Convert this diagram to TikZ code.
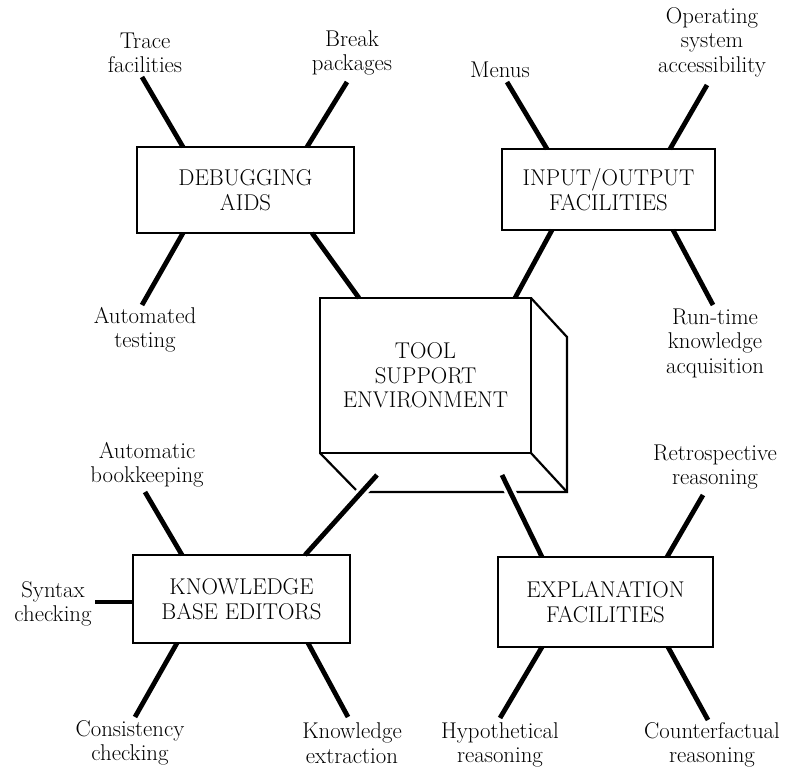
\documentclass[tikz,border=0pt]{standalone}
\usepackage{fontspec}
\usetikzlibrary{calc}
\newcommand\diagfont{\fontsize{22.8}{24.5}\selectfont}
\begin{document}
\begin{tikzpicture}[x=1pt,y=-1pt,
  every node/.style={inner sep=0pt, outer sep=0pt},
  lab/.style={align=center, font=\diagfont},
  subsys/.style={draw, line width=2.8pt, align=center, font=\diagfont},
  spoke/.style={line width=4.8pt},
  cutspoke/.style={spoke, preaction={draw=white, line width=11pt, shorten >=10pt}},
  edge3d/.style={line width=2.2pt, line join=miter}]
\useasboundingbox (0,0) rectangle (790,772);

% central block with its right and bottom faces
\node[subsys, minimum width=211pt, minimum height=155pt] (tse) at (425.5,375.5)
  {TOOL\\SUPPORT\\ENVIRONMENT};
\coordinate (bne) at ($(tse.north east)+(36,39)$);
\coordinate (bse) at ($(tse.south east)+(36,39)$);
\coordinate (bsw) at ($(tse.south west)+(38,39)$);
\draw[edge3d] (tse.north east) -- (bne) -- (bse) -- (bsw) -- (tse.south west);
\draw[edge3d] (tse.south east) -- (bse);

% subsystem boxes
\node[subsys, minimum width=217pt, minimum height=86pt] (dbg) at (245.5,190) {DEBUGGING\\AIDS};
\node[subsys, minimum width=213pt, minimum height=81pt] (io) at (608.5,189.5) {INPUT/OUTPUT\\FACILITIES};
\node[subsys, minimum width=217pt, minimum height=88pt] (kbe) at (241.5,599) {KNOWLEDGE\\BASE EDITORS};
\node[subsys, minimum width=215pt, minimum height=90pt] (expl) at (605.5,602) {EXPLANATION\\FACILITIES};

% feature labels
\node[lab] (ltf) at (145,53) {Trace\\facilities};
\node[lab] (lbp) at (352,53) {Break\\packages};
\node[lab] (lat) at (145,330) {Automated\\testing};
\node[lab] (lmn) at (500,70) {Menus};
\node[lab] (los) at (712,42) {Operating\\system\\accessibility};
\node[lab] (lrk) at (715,343) {Run-time\\knowledge\\acquisition};
\node[lab] (lab) at (147,465) {Automatic\\bookkeeping};
\node[lab] (lsc) at (53,604) {Syntax\\checking};
\node[lab] (lcc) at (130,743) {Consistency\\checking};
\node[lab] (lke) at (352,743) {Knowledge\\extraction};
\node[lab] (lrr) at (715,467) {Retrospective\\reasoning};
\node[lab] (lhr) at (500,745) {Hypothetical\\reasoning};
\node[lab] (lcr) at (712,745) {Counterfactual\\reasoning};

% outer ends of the spokes
\coordinate (ctf) at (142,77);
\coordinate (cbp) at (347,82);
\coordinate (cat) at (142,305);
\coordinate (cmn) at (507,82);
\coordinate (cos) at (707,85);
\coordinate (crk) at (713,305);
\coordinate (cab) at (145,492);
\coordinate (csc) at (95,602);
\coordinate (ccc) at (135,717);
\coordinate (cke) at (348,717);
\coordinate (crr) at (703,495);
\coordinate (chr) at (500,718);
\coordinate (ccr) at (708,720);

% spokes: debugging aids
\draw[spoke] (ctf) -- ([xshift=46pt]dbg.north west);
\draw[spoke] (cbp) -- ([xshift=170pt]dbg.north west);
\draw[spoke] (cat) -- ([xshift=46pt]dbg.south west);
\draw[spoke] ([xshift=175pt]dbg.south west) -- ([xshift=39pt]tse.north west);

% spokes: input/output facilities
\draw[spoke] (cmn) -- ([xshift=45pt]io.north west);
\draw[spoke] (cos) -- ([xshift=168pt]io.north west);
\draw[spoke] (crk) -- ([xshift=171pt]io.south west);
\draw[spoke] ([xshift=50pt]io.south west) -- ([xshift=195pt]tse.north west);

% spokes: knowledge base editors
\draw[spoke] (cab) -- ([xshift=49pt]kbe.north west);
\draw[spoke] (csc) -- (csc -| kbe.west);
\draw[spoke] (ccc) -- ([xshift=44pt]kbe.south west);
\draw[spoke] (cke) -- ([xshift=175pt]kbe.south west);
\draw[cutspoke] ($(tse.south west)+(57,22)$) -- ([xshift=172pt]kbe.north west);

% spokes: explanation facilities
\draw[spoke] (crr) -- ([xshift=169pt]expl.north west);
\draw[spoke] (chr) -- ([xshift=44pt]expl.south west);
\draw[spoke] (ccr) -- ([xshift=170pt]expl.south west);
\draw[cutspoke] ($(tse.south west)+(182,22)$) -- ([xshift=44pt]expl.north west);
\end{tikzpicture}
\end{document}
